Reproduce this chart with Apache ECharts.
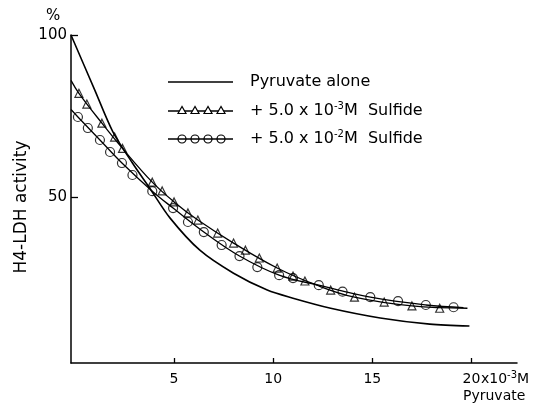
<!DOCTYPE html>
<html>
<head>
<meta charset="utf-8">
<script src="https://cdn.jsdelivr.net/npm/echarts@6/dist/echarts.min.js"></script>
<style>
html,body{margin:0;padding:0;background:#fff;}
#chart{width:554px;height:403px;}
</style>
</head>
<body>
<div id="chart"></div>
<script>
// Pyruvate concentration (x 10^-3 M) vs H4-LDH activity (%)
var pyruvateAloneCurve = [
  [-0.2, 100], [1.0, 83], [1.9, 70.3], [2.9, 60.5], [3.8, 52.5], [4.8, 43.5],
  [6.3, 33.6], [8.0, 26.5], [9.7, 21.3], [11.0, 18.8], [12.9, 15.7], [15.4, 12.7],
  [17.9, 10.8], [19.9, 10.2]
];
var sulfide3Curve = [
  [-0.2, 86], [0.2, 82], [1.36, 72.8], [2.4, 65], [3.9, 54.6], [5.0, 48.5], [6.2, 42.9],
  [8.0, 35.8], [10.2, 28.1], [12.2, 22.8], [14.1, 19.1], [17.0, 16.4], [19.8, 15.7]
];
var sulfide3Points = [
  [0.2, 82], [0.6, 78.7], [1.36, 72.8], [2.0, 68.5], [2.4, 65], [3.9, 54.6], [4.4, 51.9],
  [5.0, 48.5], [5.7, 45.1], [6.2, 42.9], [7.2, 38.9], [8.0, 35.8], [8.6, 33.6], [9.3, 31.2],
  [10.2, 28.1], [11.0, 25.6], [11.6, 24.1], [12.9, 21.3], [14.1, 19.1], [15.6, 17.6],
  [17.0, 16.4], [18.4, 15.7]
];
var sulfide2Curve = [
  [-0.2, 77], [0.15, 74.7], [1.26, 67.6], [2.37, 60.5], [3.9, 51.8], [4.95, 46.6],
  [6.5, 39.2], [8.3, 31.8], [10.3, 25.9], [12.3, 22.8], [14.9, 19.1], [17.7, 16.7], [19.6, 15.9]
];
var sulfide2Points = [
  [0.15, 74.7], [0.65, 71.3], [1.26, 67.6], [1.77, 63.9], [2.37, 60.5], [2.9, 56.8],
  [3.9, 51.8], [4.95, 46.6], [5.7, 42.3], [6.5, 39.2], [7.4, 35.2], [8.3, 31.8], [9.2, 28.4],
  [10.3, 25.9], [11.0, 25.0], [12.3, 22.8], [13.5, 20.8], [14.9, 19.1], [16.3, 17.9],
  [17.7, 16.7], [19.1, 16.0]
];
var xTicks = [5, 10, 15, 20];
var xTickLabels = ['5', '10', '15', '20'];
var yTicks = [50, 100];
var yTickLabels = ['50', '100'];

var FONT = 'DejaVu Sans';
var chart = echarts.init(document.getElementById('chart'), null, {renderer: 'canvas'});

var legendY = [82, 111, 139];
var graphics = [
  {type: 'text', left: 46, top: 9, style: {text: '%', font: '15px ' + FONT, fill: '#000'}},
  {type: 'text', x: 22, y: 207, rotation: Math.PI / 2, style: {text: 'H4-LDH activity', font: '17px ' + FONT, fill: '#000', align: 'center', verticalAlign: 'middle'}},
  {type: 'text', x: 481, y: 379, style: {text: '{a|x10}{s|-3}{a|M}', rich: {a: {font: '14px ' + FONT, fill: '#000'}, s: {font: '10px ' + FONT, fill: '#000', verticalAlign: 'top', padding: [0, 0, 8, 0]}}, verticalAlign: 'middle', fill: '#000'}},
  {type: 'text', x: 463, y: 396, style: {text: 'Pyruvate', font: '14px ' + FONT, fill: '#000', verticalAlign: 'middle'}}
];
// legend samples
for (var i = 0; i < 3; i++) {
  graphics.push({type: 'line', shape: {x1: 168, y1: legendY[i], x2: 233, y2: legendY[i]}, style: {stroke: '#000', lineWidth: 1.6}});
}
[182, 195, 208, 221].forEach(function (cx) {
  graphics.push({type: 'polygon', shape: {points: [[cx, legendY[1] - 4.5], [cx - 4, legendY[1] + 2.5], [cx + 4, legendY[1] + 2.5]]}, style: {stroke: '#000', fill: '#fff', lineWidth: 1.2}});
  graphics.push({type: 'circle', shape: {cx: cx, cy: legendY[2], r: 4}, style: {stroke: '#000', fill: 'none', lineWidth: 1.2}});
});
graphics.push({type: 'text', x: 250, y: legendY[0], style: {text: 'Pyruvate alone', font: '16px ' + FONT, fill: '#000', verticalAlign: 'middle'}});
graphics.push({type: 'text', x: 250, y: legendY[1], style: {text: '{a|+ 5.0 x 10}{s|-3}{a|M  Sulfide}', rich: {a: {font: '16px ' + FONT, fill: '#000'}, s: {font: '10px ' + FONT, fill: '#000', padding: [0, 0, 9, 0]}}, verticalAlign: 'middle'}});
graphics.push({type: 'text', x: 250, y: legendY[2], style: {text: '{a|+ 5.0 x 10}{s|-2}{a|M  Sulfide}', rich: {a: {font: '16px ' + FONT, fill: '#000'}, s: {font: '10px ' + FONT, fill: '#000', padding: [0, 0, 9, 0]}}, verticalAlign: 'middle'}});

var option = {
  animation: false,
  backgroundColor: '#fff',
  grid: {left: 71, top: 35, right: 37, bottom: 40, containLabel: false},
  xAxis: {
    type: 'value', min: -0.2, max: 22.3,
    axisLine: {show: true, onZero: false, lineStyle: {color: '#000', width: 1.5}},
    axisTick: {show: true, inside: true, length: 5, lineStyle: {color: '#000', width: 1.3}, customValues: xTicks},
    axisLabel: {show: true, customValues: [5, 10, 15, 20], color: '#000', fontFamily: FONT, fontSize: 14, margin: 9,
      formatter: function (v) { var k = xTicks.indexOf(v); return k >= 0 ? xTickLabels[k] : ''; }},
    splitLine: {show: false}
  },
  yAxis: {
    type: 'value', min: -1.2, max: 100,
    axisLine: {show: true, onZero: false, lineStyle: {color: '#000', width: 1.5}},
    axisTick: {show: true, inside: true, length: 7, lineStyle: {color: '#000', width: 1.3}, customValues: yTicks},
    axisLabel: {show: true, customValues: yTicks, color: '#000', fontFamily: FONT, fontSize: 15, margin: 4,
      formatter: function (v) { var k = yTicks.indexOf(v); return k >= 0 ? yTickLabels[k] : ''; }},
    splitLine: {show: false}
  },
  series: [
    {name: 'Pyruvate alone', type: 'line', data: pyruvateAloneCurve, smooth: 0.3, showSymbol: false, symbol: 'none', lineStyle: {color: '#000', width: 1.6}},
    {name: 'curve3', type: 'line', data: sulfide3Curve, smooth: 0.4, showSymbol: false, symbol: 'none', lineStyle: {color: '#000', width: 1.3}},
    {name: 'curve2', type: 'line', data: sulfide2Curve, smooth: 0.4, showSymbol: false, symbol: 'none', lineStyle: {color: '#000', width: 1.3}},
    {name: '+5.0x10-3M Sulfide', type: 'scatter', data: sulfide3Points, symbol: 'triangle', symbolSize: [8, 8], itemStyle: {color: '#fff', borderColor: '#000', borderWidth: 1.2}},
    {name: '+5.0x10-2M Sulfide', type: 'scatter', data: sulfide2Points, symbol: 'circle', symbolSize: 9, itemStyle: {color: 'rgba(0,0,0,0)', borderColor: '#000', borderWidth: 1.2}}
  ],
  graphic: graphics
};
chart.setOption(option);
</script>
</body>
</html>
